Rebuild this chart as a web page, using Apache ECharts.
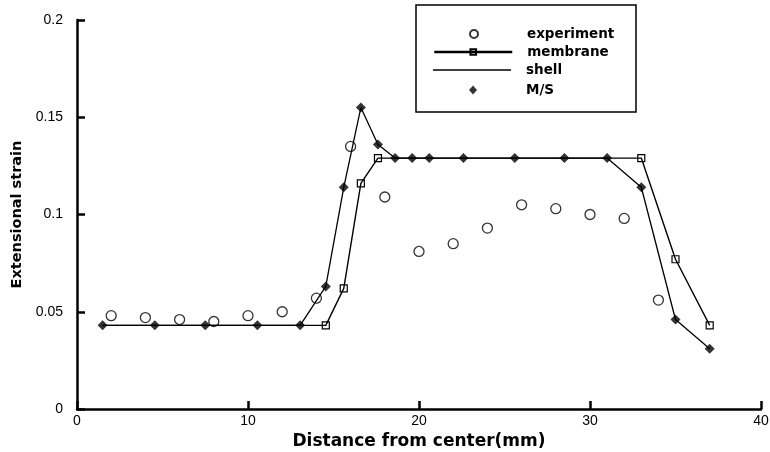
<!DOCTYPE html>
<html>
<head>
<meta charset="utf-8">
<script src="https://cdn.jsdelivr.net/npm/echarts@6/dist/echarts.min.js"></script>
<style>
  html, body { margin: 0; padding: 0; background: #fff; }
  #chart { width: 770px; height: 452px; }
</style>
</head>
<body>
<div id="chart"></div>
<script>
// experiment (hollow circles)
const expX = [2, 4, 6, 8, 10, 12, 14, 16, 18, 20, 22, 24, 26, 28, 30, 32, 34]
const expY = [0.048, 0.047, 0.046, 0.045, 0.048, 0.050, 0.057, 0.135, 0.109, 0.081, 0.085, 0.093, 0.105, 0.103, 0.100, 0.098, 0.056]

// membrane (line + squares)
const memX = [1.5, 14.55, 15.6, 16.6, 17.6, 33.0, 35.0, 37.0]
const memY = [0.043, 0.043, 0.062, 0.116, 0.129, 0.129, 0.077, 0.043]

// shell line and M/S markers share the same points
const msX = [1.5, 4.55, 7.5, 10.55, 13.05, 14.55, 15.6, 16.6, 17.6, 18.6, 19.6, 20.6, 22.6, 25.6, 28.5, 31.0, 33.0, 35.0, 37.0]
const msY = [0.043, 0.043, 0.043, 0.043, 0.043, 0.063, 0.114, 0.155, 0.136, 0.129, 0.129, 0.129, 0.129, 0.129, 0.129, 0.129, 0.114, 0.046, 0.031]

const xTicks = [0, 10, 20, 30, 40]
const yTicks = [0, 0.05, 0.1, 0.15, 0.2]

const zip = (xs, ys) => xs.map((x, i) => [x, ys[i]])

const chart = echarts.init(document.getElementById('chart'))

const labelFont = { color: '#000', fontFamily: 'Liberation Sans', fontSize: 14 }
const axisLine = { lineStyle: { color: '#000', width: 2.5 } }
const axisTick = { inside: true, length: 8, lineStyle: { color: '#000', width: 2.5 } }

// one legend per row so each icon can have its own size
const legendText = (pad) => ({
  color: '#000', fontFamily: 'DejaVu Sans', fontWeight: 'bold', fontSize: 13.5, padding: [0, 0, 0, pad]
})
const legendRow = (name, left, top, w, h, extra) => ({
  orient: 'vertical',
  left: left,
  top: top,
  padding: 0,
  itemWidth: w,
  itemHeight: h,
  selectedMode: false,
  textStyle: legendText(526 - left - w - 5),
  data: [Object.assign({ name: name }, extra || {})]
})

const memData = zip(memX, memY).map((p, i) => i === 0 ? { value: p, symbol: 'none' } : p)

chart.setOption({
  animation: false,
  backgroundColor: '#fff',
  grid: { left: 77, right: 9, top: 20, bottom: 43, outerBoundsMode: 'none' },
  graphic: [{
    type: 'rect',
    shape: { x: 416, y: 5, width: 220, height: 107 },
    style: { fill: 'none', stroke: '#000', lineWidth: 1.5 },
    silent: true
  }],
  legend: [
    legendRow('experiment', 469, 27, 8, 8),
    legendRow('membrane', 433, 45, 78, 7, { lineStyle: { width: 2.5 } }),
    legendRow('shell', 433, 63, 78, 1.3, { icon: 'rect' }),
    legendRow('M/S', 469, 83, 8, 9)
  ],
  xAxis: {
    type: 'value',
    min: xTicks[0],
    max: xTicks[xTicks.length - 1],
    interval: 10,
    name: 'Distance from center(mm)',
    nameLocation: 'middle',
    nameGap: 23,
    nameTextStyle: { color: '#000', fontFamily: 'DejaVu Sans', fontWeight: 'bold', fontSize: 17 },
    axisLine: axisLine,
    axisTick: axisTick,
    axisLabel: { ...labelFont, margin: 5 },
    splitLine: { show: false }
  },
  yAxis: {
    type: 'value',
    min: yTicks[0],
    max: yTicks[yTicks.length - 1],
    interval: 0.05,
    name: 'Extensional strain',
    nameLocation: 'middle',
    nameGap: 51,
    nameTextStyle: { color: '#000', fontFamily: 'DejaVu Sans', fontWeight: 'bold', fontSize: 14.5 },
    axisLine: axisLine,
    axisTick: axisTick,
    axisLabel: { ...labelFont, margin: 14 },
    splitLine: { show: false }
  },
  series: [
    {
      name: 'membrane',
      type: 'line',
      data: memData,
      symbol: 'rect',
      symbolSize: 7,
      itemStyle: { color: 'rgba(0,0,0,0)', borderColor: '#000', borderWidth: 1.2 },
      lineStyle: { color: '#000', width: 1.4 },
      z: 2
    },
    {
      name: 'shell',
      type: 'line',
      data: zip(msX, msY),
      symbol: 'none',
      itemStyle: { color: '#000' },
      lineStyle: { color: '#000', width: 1.3 },
      z: 2
    },
    {
      name: 'M/S',
      type: 'scatter',
      data: zip(msX, msY),
      symbol: 'diamond',
      symbolSize: 10,
      itemStyle: { color: '#000' },
      z: 3
    },
    {
      name: 'experiment',
      type: 'scatter',
      data: zip(expX, expY),
      symbol: 'circle',
      symbolSize: 10,
      itemStyle: { color: 'rgba(0,0,0,0)', borderColor: '#000', borderWidth: 1.3 },
      z: 4
    }
  ]
})

window.addEventListener('resize', () => chart.resize())
</script>
</body>
</html>
